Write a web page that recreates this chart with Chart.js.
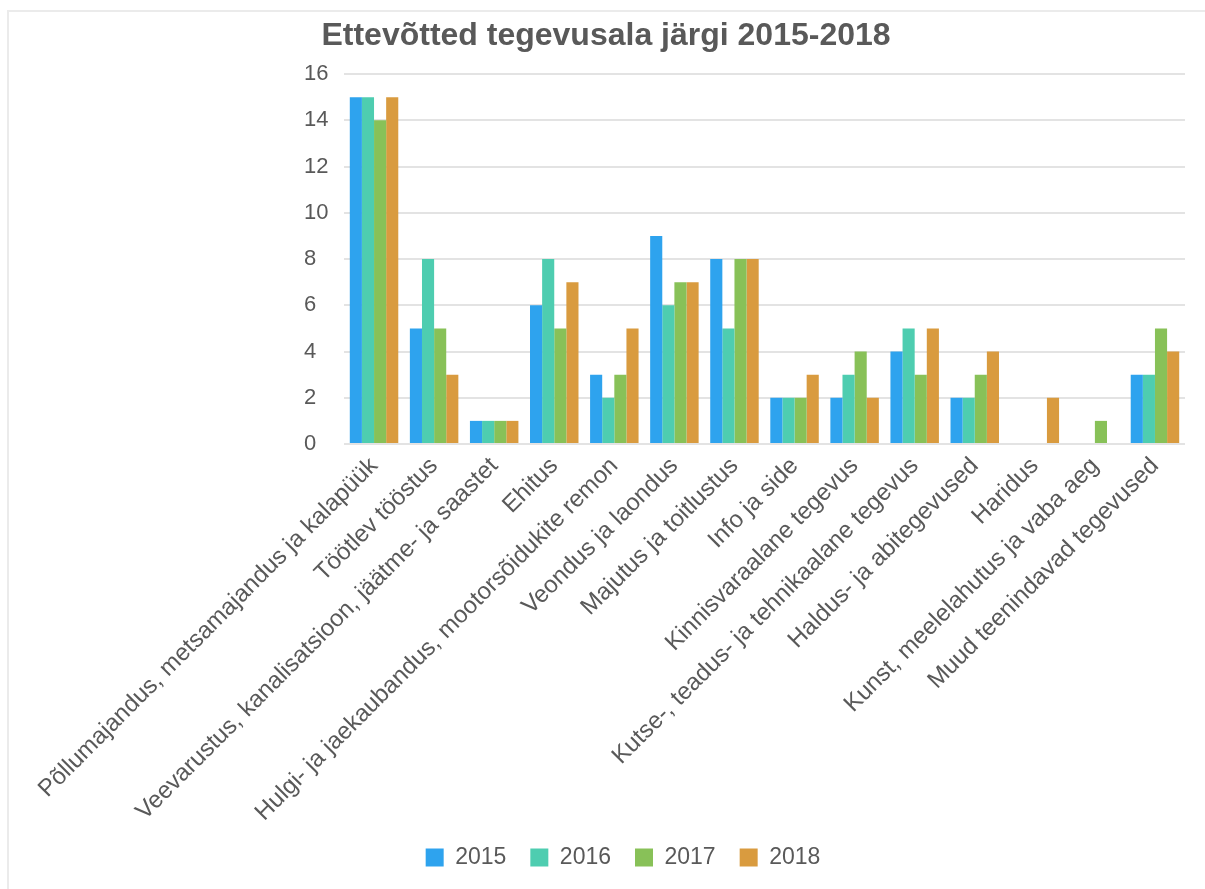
<!DOCTYPE html>
<html>
<head>
<meta charset="utf-8">
<script src="https://cdn.jsdelivr.net/npm/chart.js@4.4.1/dist/chart.umd.min.js"></script>
<style>
  html, body { margin: 0; padding: 0; background: #fff; }
  #frame {
    position: absolute; left: 7px; top: 10px; right: 0; bottom: 0;
    border-top: 2px solid #ebebeb; border-left: 2px solid #ebebeb;
  }
  #wrap { position: absolute; left: 0; top: 0; width: 1205px; height: 889px; }
</style>
</head>
<body>
<div id="frame"></div>
<div id="wrap"><canvas id="sectorChart"></canvas></div>
<script>
const categories = [
      "Põllumajandus, metsamajandus ja kalapüük",
      "Töötlev tööstus",
      "Veevarustus, kanalisatsioon, jäätme- ja saastet",
      "Ehitus",
      "Hulgi- ja jaekaubandus, mootorsõidukite remon",
      "Veondus ja laondus",
      "Majutus ja toitlustus",
      "Info ja side",
      "Kinnisvaraalane tegevus",
      "Kutse-, teadus- ja tehnikaalane tegevus",
      "Haldus- ja abitegevused",
      "Haridus",
      "Kunst, meelelahutus ja vaba aeg",
      "Muud teenindavad tegevused",
];

const years = ["2015", "2016", "2017", "2018"];

const values2015 = [15, 5, 1, 6, 3, 9, 8, 2, 2, 4, 2, 0, 0, 3];
const values2016 = [15, 8, 1, 8, 2, 6, 5, 2, 3, 5, 2, 0, 0, 3];
const values2017 = [14, 5, 1, 5, 3, 7, 8, 2, 4, 3, 3, 0, 1, 5];
const values2018 = [15, 3, 1, 7, 5, 7, 8, 3, 2, 5, 4, 2, 0, 4];

const yTicks = [0, 2, 4, 6, 8, 10, 12, 14, 16];

const YEAR_COLORS = ["#2ea3ee", "#4ecdb0", "#88c158", "#d99b3f"];

const FONT = "'Liberation Sans', Arial, sans-serif";
const TEXT_COLOR = "#595959";

const series = [values2015, values2016, values2017, values2018];

// y labels sit left-aligned at a fixed column, legend a bit right of centre
const layoutTweaks = {
      id: "layoutTweaks",
      afterLayout(chart) {
            chart.scales.y.left = 304;
            chart.legend.left += 17;
            chart.legend.right += 17;
      },
};

const ctx = document.getElementById("sectorChart");

window.sectorChart = new Chart(ctx, {
      type: "bar",
      data: {
            labels: categories,
            datasets: series.map((data, i) => ({
                  label: years[i],
                  data: data,
                  backgroundColor: YEAR_COLORS[i],
                  borderWidth: 0,
                  categoryPercentage: 0.807,
                  barPercentage: 1.0,
            })),
      },
      plugins: [layoutTweaks],
      options: {
            responsive: true,
            maintainAspectRatio: false,
            animation: false,
            layout: {
                  padding: { left: 27, right: 20, top: 0, bottom: 10 },
            },
            plugins: {
                  title: {
                        display: true,
                        text: "Ettevõtted tegevusala järgi 2015-2018",
                        color: TEXT_COLOR,
                        font: { family: FONT, size: 32, weight: "bold" },
                        padding: { top: 17, bottom: 18.6 },
                  },
                  legend: {
                        position: "bottom",
                        labels: {
                              boxWidth: 18,
                              boxHeight: 18,
                              padding: 24,
                              color: TEXT_COLOR,
                              font: { family: FONT, size: 23 },
                        },
                  },
                  tooltip: { enabled: false },
            },
            scales: {
                  x: {
                        grid: { display: false, drawTicks: false },
                        border: { display: false },
                        ticks: {
                              autoSkip: false,
                              maxRotation: 45,
                              minRotation: 45,
                              padding: 8,
                              color: TEXT_COLOR,
                              font: { family: FONT, size: 24 },
                        },
                        afterFit: (scale) => {
                              scale.height = 378;
                        },
                  },
                  y: {
                        min: 0,
                        max: 16,
                        afterBuildTicks: (scale) => {
                              scale.ticks = yTicks.map((v) => ({ value: v }));
                        },
                        grid: {
                              color: "#e3e3e3",
                              lineWidth: 2,
                              drawTicks: false,
                        },
                        border: { display: false },
                        ticks: {
                              crossAlign: "far",
                              color: TEXT_COLOR,
                              font: { family: FONT, size: 22 },
                        },
                        afterFit: (scale) => {
                              scale.width = 317;
                        },
                  },
            },
      },
});
</script>
</body>
</html>
